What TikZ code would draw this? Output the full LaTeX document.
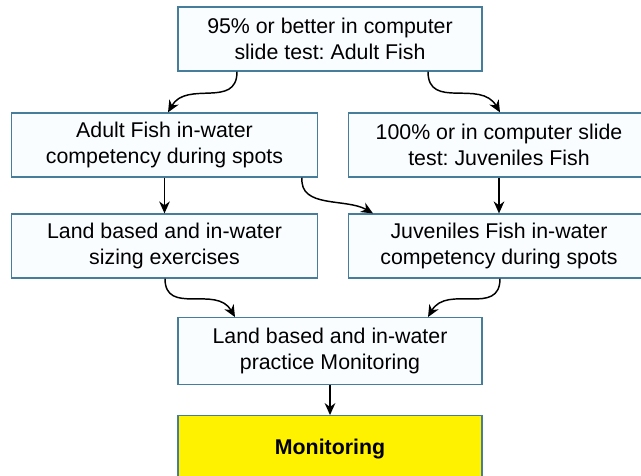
\documentclass[tikz,border=0pt]{standalone}
\usepackage{fontspec}
\setmainfont{Liberation Sans}
\usetikzlibrary{arrows.meta, positioning}
\frenchspacing

\definecolor{boxline}{RGB}{70,125,155}
\definecolor{boxfill}{RGB}{250,253,255}

\tikzset{
    stagebox/.style={draw=boxline, line width=0.9pt, fill=boxfill, rectangle, align=center,
        minimum height=48pt, inner sep=2pt,
        font=\fontsize{16}{19.5}\selectfont},
    finalbox/.style={stagebox, fill=yellow, font=\fontsize{16}{19.5}\selectfont\bfseries},
    flow/.style={->, line width=1.1pt}
}

\begin{document}
\begin{tikzpicture}[x=0.75pt, y=-0.75pt, >={Stealth[length=9pt, width=8pt]}]

        \clip (0,0) rectangle (641,475);
        \fill[white] (0,0) rectangle (641,475);

        \node[stagebox, minimum width=228pt] (test95) at (330,39) {95\% or better in computer\\slide test: Adult Fish};
        \node[stagebox, minimum width=229pt] (adult) at (164.5,145) {Adult Fish in-water\\competency during spots};
        \node[stagebox, minimum width=226pt] (test100) at (499,145) {100\% or in computer slide\\test: Juveniles Fish};
        \node[stagebox, minimum width=229pt] (sizing) at (164.5,246) {Land based and in-water\\sizing exercises};
        \node[stagebox, minimum width=226pt] (juvspots) at (499,246) {Juveniles Fish in-water\\competency during spots};
        \node[stagebox, minimum width=228pt, minimum height=50pt] (practice) at (330,351) {Land based and in-water\\practice Monitoring};
        \node[finalbox, minimum width=228pt, minimum height=50pt] (monitor) at (330,449) {Monitoring};

        \draw[flow] (237,0 |- test95.south) to[out=-90, in=60, looseness=1.2] (168,0 |- adult.north);
        \draw[flow] (428,0 |- test95.south) to[out=-90, in=120, looseness=1.2] (500,0 |- test100.north);
        \draw[flow] (adult) -- (sizing);
        \draw[flow] (test100) -- (juvspots);
        \draw[flow] (302,0 |- adult.south) to[out=-95, in=150] (373,0 |- juvspots.north);
        \draw[flow] (165,0 |- sizing.south) to[out=-90, in=120, looseness=1.2] (235,0 |- practice.north);
        \draw[flow] (500,0 |- juvspots.south) to[out=-90, in=60, looseness=1.2] (428,0 |- practice.north);
        \draw[flow] (practice) -- (monitor);
    \end{tikzpicture}
\end{document}
